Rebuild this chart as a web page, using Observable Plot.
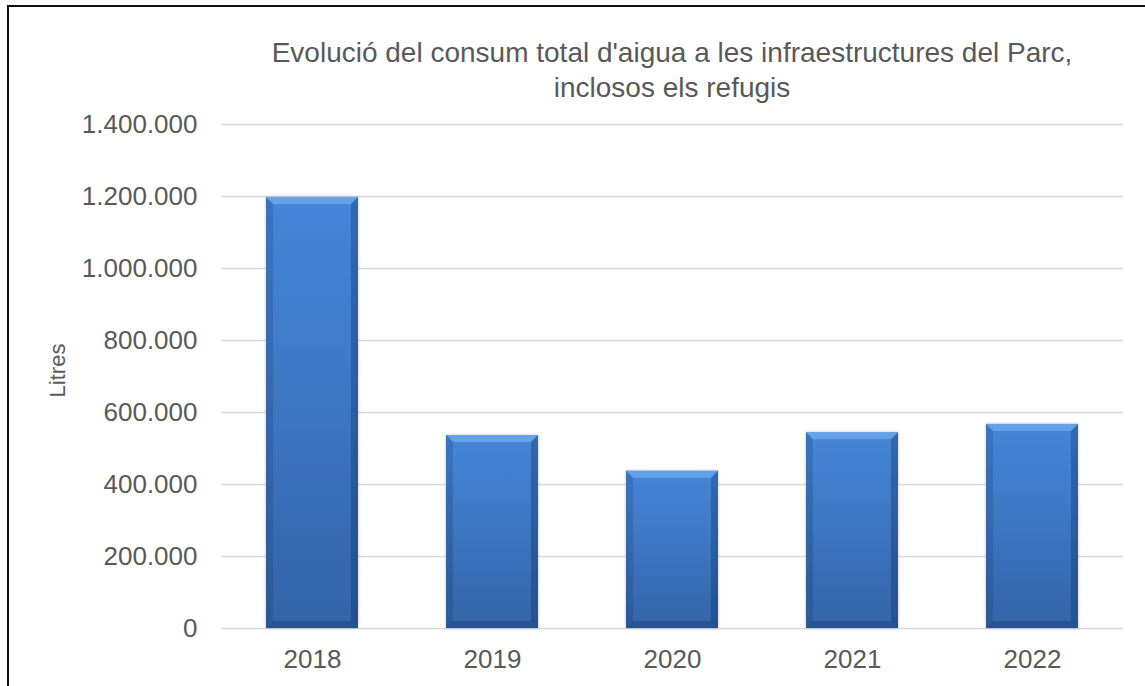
<!DOCTYPE html>
<html>
<head>
<meta charset="utf-8">
<script src="https://cdn.jsdelivr.net/npm/d3@7"></script>
<script src="https://cdn.jsdelivr.net/npm/@observablehq/plot@0.6"></script>
<style>
  html, body { margin: 0; padding: 0; background: #fff; }
  #wrap { position: relative; width: 1145px; height: 686px; overflow: hidden; font-family: "Liberation Sans", Arial, sans-serif; }
  #frame { position: absolute; left: 7px; top: 5px; width: 1300px; height: 900px; border-left: 2px solid #111; border-top: 2px solid #111; box-sizing: border-box; pointer-events: none; }
  #title { margin-left: 221px; width: 902px; padding-top: 35px; height: 72px; text-align: center; font-size: 28px; line-height: 35px; color: #595959; white-space: nowrap; }
  svg { display: block; }
</style>
</head>
<body>
<div id="wrap">
  <div id="title">Evolució del consum total d'aigua a les infraestructures del Parc,<br>inclosos els refugis</div>
  <div id="chart"></div>
  <div id="frame"></div>
</div>
<script>
const years = ["2018", "2019", "2020", "2021", "2022"];
const litres = [1197000, 536000, 437000, 544000, 567000];
const yTicks = [0, 200000, 400000, 600000, 800000, 1000000, 1200000, 1400000];
const yLabel = "Litres";

const data = years.map((y, i) => ({year: y, value: litres[i]}));
const fmt = d3.formatLocale({decimal: ",", thousands: ".", grouping: [3], currency: ["", "€"]}).format(",d");

const defs = () => {
  const d = d3.create("svg:defs");
  const gv = d.append("linearGradient").attr("id", "gv").attr("x1", 0).attr("y1", 0).attr("x2", 0).attr("y2", 1);
  gv.append("stop").attr("offset", "0%").attr("stop-color", "#4586d8");
  gv.append("stop").attr("offset", "100%").attr("stop-color", "#3464a8");
  const f = d.append("filter").attr("id", "sh").attr("x", "-10%").attr("y", "-10%").attr("width", "120%").attr("height", "120%");
  f.append("feDropShadow").attr("dx", 0).attr("dy", 0).attr("stdDeviation", 1.5).attr("flood-color", "#000").attr("flood-opacity", 0.25);
  return d.node();
};

const bevel = (index, scales, values, dims, context, next) => {
  const g = next(index, scales, values, dims, context);
  const rects = Array.from(g.querySelectorAll("rect"));
  rects.forEach(r => {
    const x = +r.getAttribute("x"), y = +r.getAttribute("y");
    const w = +r.getAttribute("width"), h = +r.getAttribute("height");
    const b = 7;
    const add = (pts, fill) => {
      const p = document.createElementNS("http://www.w3.org/2000/svg", "polygon");
      p.setAttribute("points", pts.map(q => q.join(",")).join(" "));
      p.setAttribute("fill", fill);
      g.appendChild(p);
    };
    add([[x, y], [x + w, y], [x + w - b, y + b], [x + b, y + b]], "rgba(140,195,255,0.45)");
    add([[x, y], [x + b, y + b], [x + b, y + h - b], [x, y + h]], "rgba(10,40,90,0.18)");
    add([[x + w, y], [x + w - b, y + b], [x + w - b, y + h - b], [x + w, y + h]], "rgba(10,40,90,0.32)");
    add([[x, y + h], [x + b, y + h - b], [x + w - b, y + h - b], [x + w, y + h]], "rgba(10,40,90,0.28)");
  });
  return g;
};

const chart = Plot.plot({
  width: 1145,
  height: 579,
  marginTop: 17,
  marginBottom: 58,
  marginLeft: 221,
  marginRight: 22,
  style: {fontFamily: "'Liberation Sans', Arial, sans-serif", fontSize: "26px", color: "#595959", background: "transparent"},
  x: {domain: years, paddingInner: 0.49, paddingOuter: 0.245, label: null},
  y: {domain: [0, 1400000], label: null},
  marks: [
    defs,
    Plot.ruleY(yTicks, {stroke: "#d9d9d9", strokeWidth: 1.5}),
    Plot.barY(data, {x: "year", y: "value", fill: "url(#gv)", render: bevel}),
    Plot.axisY(yTicks, {tickSize: 0, tickPadding: 24, tickFormat: fmt, label: null, fontSize: 26}),
    Plot.axisX({tickSize: 0, tickPadding: 21, label: null, fontSize: 26}),
    Plot.text([yLabel], {frameAnchor: "left", text: d => d, rotate: -90, textAnchor: "middle", dx: -164, dy: -6, fontSize: 22, fill: "#595959"})
  ]
});
chart.querySelectorAll("g[aria-label='bar']").forEach(g => g.setAttribute("filter", "url(#sh)"));
document.getElementById("chart").appendChild(chart);
</script>
</body>
</html>
